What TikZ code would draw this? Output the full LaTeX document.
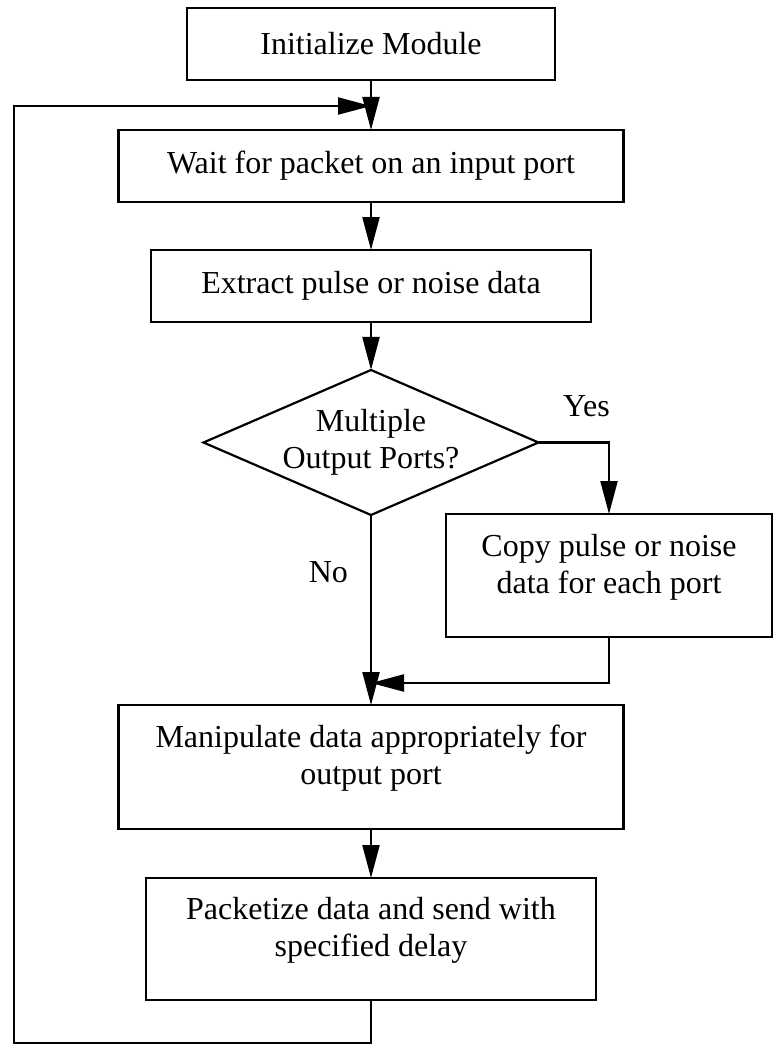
\documentclass[tikz,border=0pt]{standalone}
\usepackage{fontspec}
\setmainfont{Liberation Serif}
\usetikzlibrary{shapes, arrows.meta, positioning}

% extra room under a two-line text, so it sits a little high in its box
\newcommand{\padbelow}{\rule[-24pt]{0pt}{0pt}}

\begin{document}
\begin{tikzpicture}[
    x=1pt, y=1pt,
    node distance=48pt,
    process/.style={rectangle, draw, line width=2.2pt, outer sep=0pt, minimum height=72pt, align=center, inner sep=0pt, font=\fontsize{32}{37}\selectfont},
    decision/.style={diamond, draw, line width=2.2pt, outer sep=0pt, shape aspect=2.3, minimum width=335pt, minimum height=145pt, inner sep=0pt, align=center, font=\fontsize{32}{37}\selectfont},
    branchtext/.style={inner sep=0pt, font=\fontsize{32}{37}\selectfont},
    arrow/.style={-{Triangle[length=33pt, width=17pt]}, line width=2.2pt}
]
\useasboundingbox (0,0) rectangle (772,-1046);

% Main column
\node[process, minimum width=368pt] (init) at (371,-44) {Initialize Module};
\node[process, minimum width=505pt, below=50pt of init] (wait) {Wait for packet on an input port};
\node[process, minimum width=440pt, below=of wait] (extract) {Extract pulse or noise data};
\node[decision, below=of extract] (decide) {Multiple\\Output Ports?};
\node[process, minimum width=505pt, minimum height=124pt, below=190pt of decide] (manip) {Manipulate data appropriately for\\output port\padbelow};
\node[process, minimum width=450pt, minimum height=122pt, below=49pt of manip] (pack) {Packetize data and send with\\specified delay\padbelow};

% Side branch
\node[process, minimum width=326pt, minimum height=123pt, anchor=north] (copy) at (609,-514) {Copy pulse or noise\\data for each port\padbelow};

% Joins and loop corners
\coordinate (merge) at (371,-683);
\coordinate (loopcorner) at (14,-1043);
\coordinate (loopin) at (371,-106);

% Arrows
\draw[arrow] (init) -- (wait);
\draw[arrow] (wait) -- (extract);
\draw[arrow] (extract) -- (decide);
\draw[arrow] (decide.east) -| node[branchtext, pos=0.34, above=25pt] {Yes} (copy.north);
\draw[arrow] (decide) -- node[branchtext, pos=0.3, left=22pt] {No} (manip);
\draw[arrow] (copy.south) |- (merge);
\draw[arrow] (manip) -- (pack);
\draw[arrow] (pack.south) |- (loopcorner) |- (loopin);

\end{tikzpicture}
\end{document}
